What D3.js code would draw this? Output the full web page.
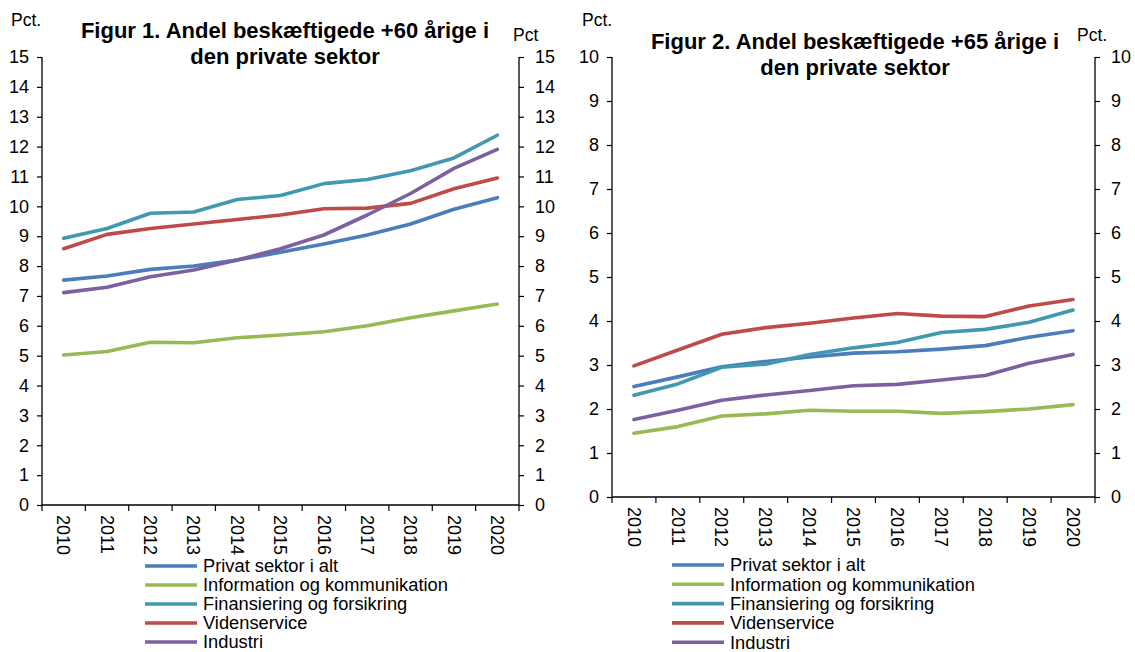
<!DOCTYPE html>
<html><head><meta charset="utf-8">
<script src="https://cdn.jsdelivr.net/npm/d3@7"></script>
<style>
body{margin:0;background:#fff;}
text{font-family:"Liberation Sans",Arial,sans-serif;fill:#000;}
</style></head>
<body><svg id="c" width="1135" height="652"></svg>
<script>
const years = ["2010","2011","2012","2013","2014","2015","2016","2017","2018","2019","2020"];
const seriesNames = ["Privat sektor i alt","Information og kommunikation","Finansiering og forsikring","Videnservice","Industri"];
const seriesColors = ["#4a7ebb","#98b954","#4198af","#be4b48","#7d60a0"];

// Figur 1: +60 årige
const fig1Privat = [7.53,7.67,7.89,8.00,8.20,8.46,8.74,9.04,9.41,9.90,10.29];
const fig1Info   = [5.02,5.14,5.45,5.43,5.60,5.69,5.80,6.00,6.27,6.50,6.73];
const fig1Finans = [8.93,9.26,9.77,9.81,10.23,10.36,10.76,10.90,11.19,11.62,12.38];
const fig1Viden  = [8.58,9.06,9.26,9.41,9.56,9.71,9.92,9.94,10.10,10.59,10.95];
const fig1Indu   = [7.11,7.29,7.64,7.87,8.20,8.58,9.04,9.71,10.43,11.27,11.91];
const fig1Ticks  = [0,1,2,3,4,5,6,7,8,9,10,11,12,13,14,15];

// Figur 2: +65 årige
const fig2Privat = [2.51,2.73,2.96,3.08,3.18,3.27,3.30,3.36,3.44,3.63,3.78];
const fig2Info   = [1.45,1.60,1.84,1.89,1.97,1.95,1.95,1.90,1.94,2.00,2.10];
const fig2Finans = [2.31,2.57,2.95,3.02,3.24,3.39,3.51,3.74,3.81,3.97,4.25];
const fig2Viden  = [2.98,3.34,3.70,3.85,3.95,4.07,4.17,4.11,4.10,4.34,4.49];
const fig2Indu   = [1.76,1.97,2.20,2.32,2.42,2.53,2.56,2.66,2.76,3.04,3.24];
const fig2Ticks  = [0,1,2,3,4,5,6,7,8,9,10];

const svg = d3.select("#c");

function drawChart(o){
  const g = svg.append("g");
  const x = d3.scaleBand().domain(years).range([o.x0,o.x1]);
  const y = d3.scaleLinear().domain([0,o.ymax]).range([o.y0,o.y1]);

  const la = g.append("g").attr("transform",`translate(${o.x0},0)`)
    .call(d3.axisLeft(y).tickValues(o.ticks).tickSize(5).tickPadding(8).tickFormat(d3.format("d")));
  const ra = g.append("g").attr("transform",`translate(${o.x1},0)`)
    .call(d3.axisRight(y).tickValues(o.ticks).tickSize(5).tickPadding(11).tickFormat(d3.format("d")));
  [la,ra].forEach(a=>{
    a.select(".domain").attr("stroke","#000").attr("stroke-width",1.3).attr("d",`M0,${o.y1}V${o.y0}`);
    a.selectAll(".tick line").attr("stroke","#000").attr("stroke-width",1.2);
    a.selectAll(".tick text").style("font-size","18px").attr("fill","#000");
  });

  const bx = g.append("g").attr("transform",`translate(0,${o.y0})`);
  bx.append("line").attr("x1",o.x0).attr("x2",o.x1).attr("y1",0).attr("y2",0)
    .attr("stroke","#000").attr("stroke-width",1.3);
  const bounds = years.map(d=>x(d)).concat([x(years[years.length-1])+x.bandwidth()]);
  bx.selectAll("line.t").data(bounds).enter().append("line").attr("class","t")
    .attr("x1",d=>d).attr("x2",d=>d).attr("y1",0).attr("y2",6)
    .attr("stroke","#000").attr("stroke-width",1.2);
  bx.selectAll("text").data(years).enter().append("text")
    .attr("transform",d=>`translate(${x(d)+x.bandwidth()/2},10) rotate(90)`)
    .attr("dy","0.35em").attr("text-anchor","start")
    .style("font-size","18px").text(d=>d);

  const line = d3.line().x((d,i)=>x(years[i])+x.bandwidth()/2).y(d=>y(d));
  o.data.forEach((s,i)=>{
    g.append("path").datum(s).attr("d",line).attr("fill","none")
      .attr("stroke",seriesColors[i]).attr("stroke-width",3.6)
      .attr("stroke-linejoin","round").attr("stroke-linecap","round");
  });

  o.title.forEach((t,i)=>{
    g.append("text").attr("x",o.tx).attr("y",o.ty+i*26).attr("text-anchor","middle")
      .style("font-size","22px").style("font-weight","bold").text(t);
  });
  g.append("text").attr("x",o.pl[0]).attr("y",o.pl[1]).style("font-size","17.5px").text(o.pl[2]);
  g.append("text").attr("x",o.pr[0]).attr("y",o.pr[1]).style("font-size","17.5px").text(o.pr[2]);

  seriesNames.forEach((n,i)=>{
    const yy = o.ly + i*o.ls;
    g.append("line").attr("x1",o.lx).attr("x2",o.lx+52).attr("y1",yy).attr("y2",yy)
      .attr("stroke",seriesColors[i]).attr("stroke-width",3.6);
    g.append("text").attr("x",o.lx+58).attr("y",yy).attr("dy","0.35em")
      .style("font-size","18.3px").text(n);
  });
}

drawChart({x0:42,x1:519,y0:505,y1:57,ymax:15,ticks:fig1Ticks,
  data:[fig1Privat,fig1Info,fig1Finans,fig1Viden,fig1Indu],
  title:["Figur 1. Andel beskæftigede +60 årige i","den private sektor"],tx:285,ty:38,
  pl:[11,26,"Pct."],pr:[513,41,"Pct"],lx:145,ly:566,ls:19.0});
drawChart({x0:612,x1:1095,y0:497,y1:57,ymax:10,ticks:fig2Ticks,
  data:[fig2Privat,fig2Info,fig2Finans,fig2Viden,fig2Indu],
  title:["Figur 2. Andel beskæftigede +65 årige i","den private sektor"],tx:855,ty:49,
  pl:[582,26,"Pct."],pr:[1077,41,"Pct."],lx:672,ly:565,ls:19.3});
</script></body></html>
